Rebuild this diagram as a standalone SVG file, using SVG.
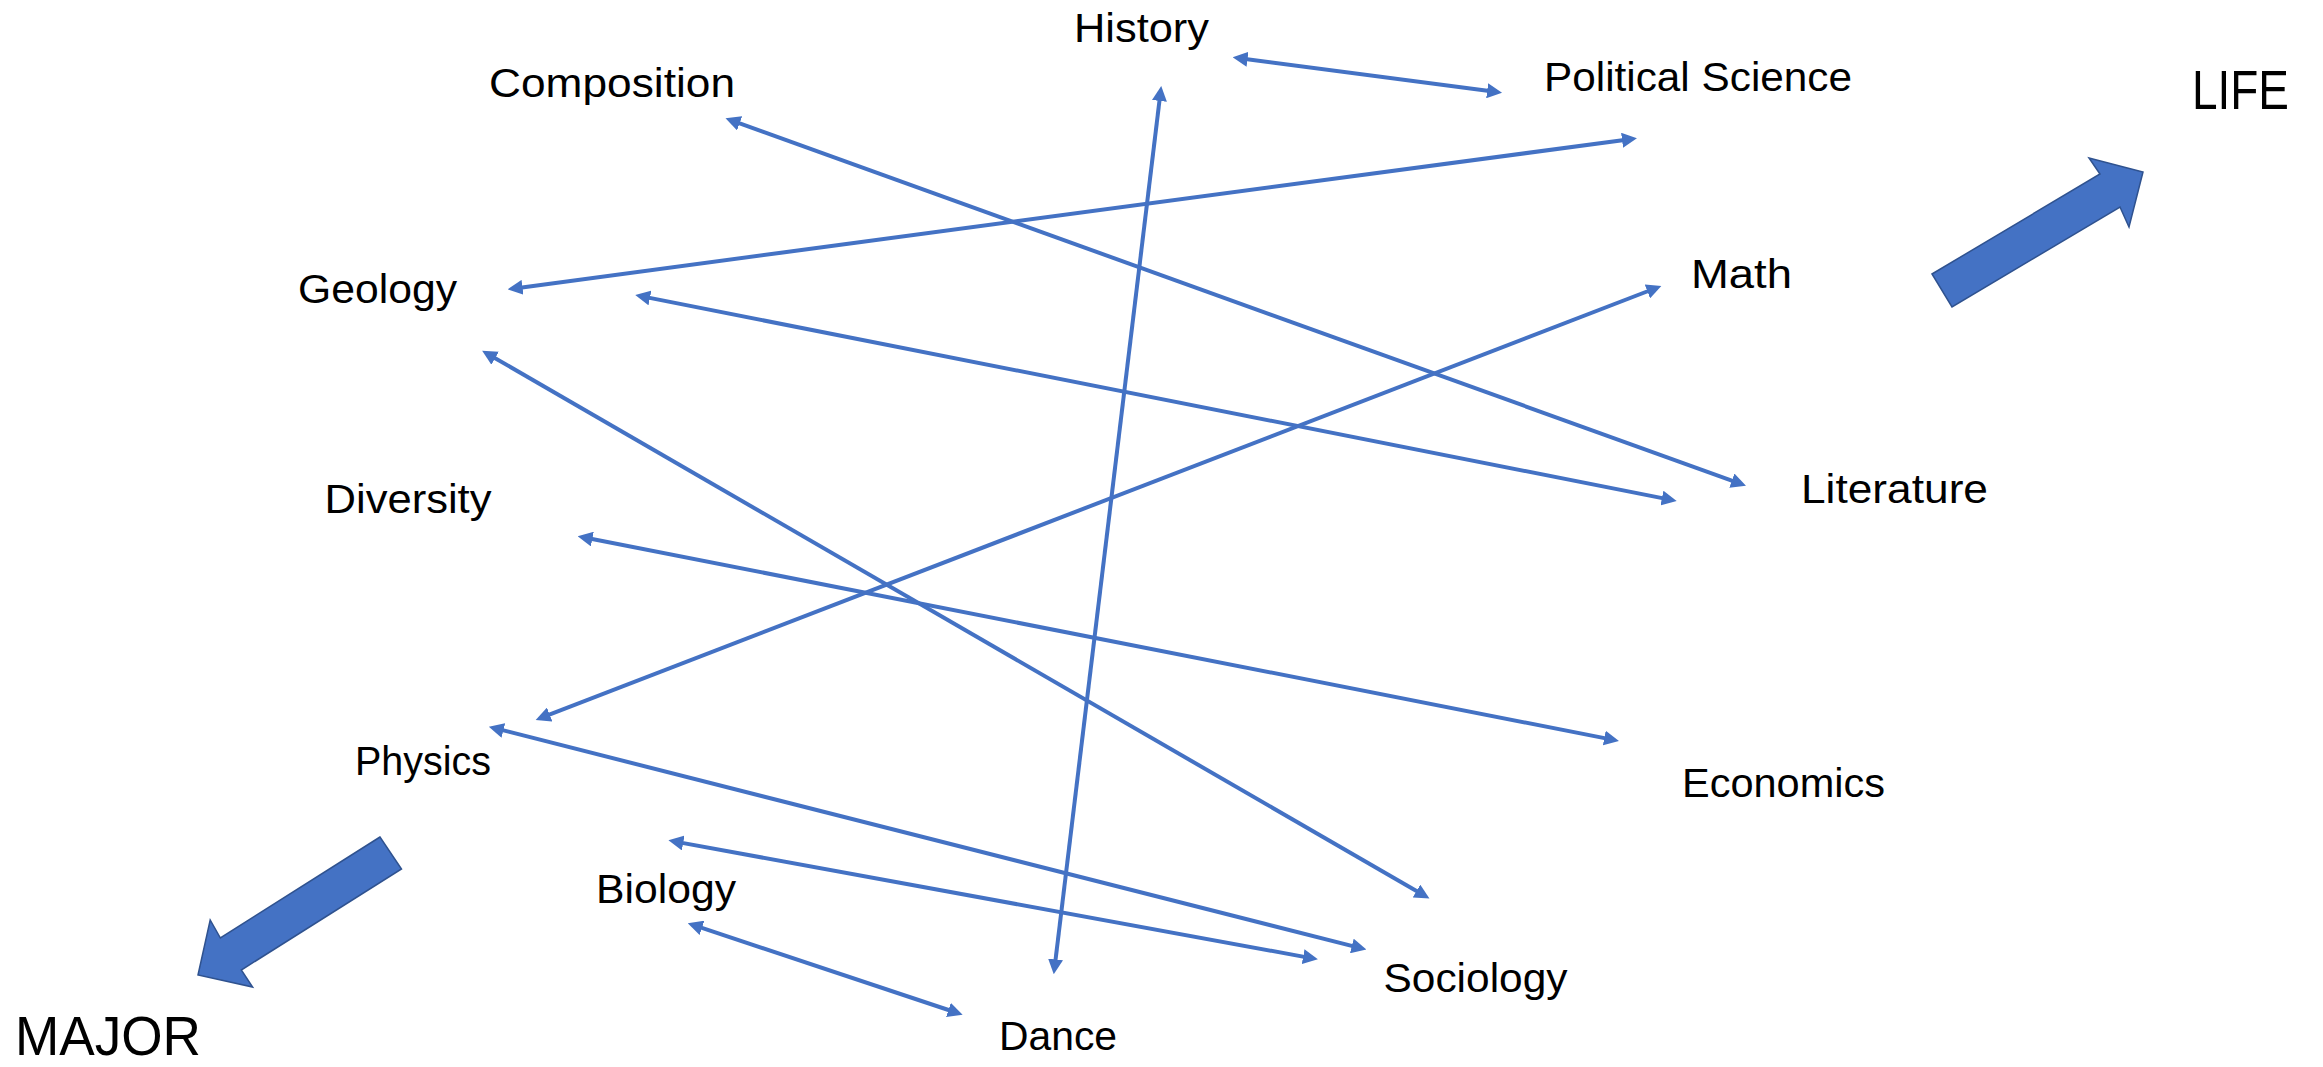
<svg xmlns="http://www.w3.org/2000/svg" width="2323" height="1067" viewBox="0 0 2323 1067">
  <style>
    .lbl { font-family: "Liberation Sans", Arial, sans-serif; font-size: 41px; fill: #000000; }
    .big { font-family: "Liberation Sans", Arial, sans-serif; font-size: 56px; fill: #000000; }
    .link { stroke: #4472C4; stroke-width: 4; fill: none; marker-start: url(#tip); marker-end: url(#tip); }
    .block { fill: #4472C4; stroke: #2F528F; stroke-width: 1.5; stroke-linejoin: miter; }
  </style>
  <defs>
    <marker id="tip" viewBox="0 0 15 15" markerUnits="userSpaceOnUse" markerWidth="15" markerHeight="15" refX="8" refY="7.5" orient="auto-start-reverse">
      <path d="M0,0 L15,7.5 L0,15 Z" fill="#4472C4"/>
    </marker>
  </defs>
  <rect width="2323" height="1067" fill="#ffffff"/>

  <!-- connectors between subjects -->
  <g id="connectors">
    <line class="link" x1="1239.6" y1="58.2" x2="1495.1" y2="91.8"/>
    <line class="link" x1="1160.4" y1="93.0" x2="1054.6" y2="967.4"/>
    <line class="link" x1="732.1" y1="120.7" x2="1739.4" y2="483.3"/>
    <line class="link" x1="514.6" y1="288.4" x2="1630.0" y2="139.2"/>
    <line class="link" x1="642.1" y1="296.4" x2="1669.8" y2="499.6"/>
    <line class="link" x1="488.2" y1="354.2" x2="1423.4" y2="895.1"/>
    <line class="link" x1="1654.8" y1="288.5" x2="542.2" y2="717.4"/>
    <line class="link" x1="584.5" y1="537.5" x2="1612.1" y2="739.6"/>
    <line class="link" x1="495.6" y1="728.4" x2="1359.6" y2="947.9"/>
    <line class="link" x1="675.3" y1="841.6" x2="1311.0" y2="958.1"/>
    <line class="link" x1="694.4" y1="925.4" x2="956.0" y2="1012.5"/>
  </g>

  <!-- subject labels -->
  <g id="history"><text class="lbl" x="1074" y="42.3" textLength="135" lengthAdjust="spacingAndGlyphs">History</text></g>
  <g id="composition"><text class="lbl" x="489" y="96.7" textLength="246" lengthAdjust="spacingAndGlyphs">Composition</text></g>
  <g id="political-science"><text class="lbl" x="1544" y="90.7" textLength="308" lengthAdjust="spacingAndGlyphs">Political Science</text></g>
  <g id="geology"><text class="lbl" x="298" y="302.7" textLength="159" lengthAdjust="spacingAndGlyphs">Geology</text></g>
  <g id="math"><text class="lbl" x="1691" y="288.3" textLength="101" lengthAdjust="spacingAndGlyphs">Math</text></g>
  <g id="literature"><text class="lbl" x="1801" y="503.3" textLength="187" lengthAdjust="spacingAndGlyphs">Literature</text></g>
  <g id="diversity"><text class="lbl" x="324.5" y="512.7" textLength="167" lengthAdjust="spacingAndGlyphs">Diversity</text></g>
  <g id="physics"><text class="lbl" x="355" y="775.2" textLength="136" lengthAdjust="spacingAndGlyphs">Physics</text></g>
  <g id="economics"><text class="lbl" x="1682" y="797.3" textLength="203" lengthAdjust="spacingAndGlyphs">Economics</text></g>
  <g id="biology"><text class="lbl" x="596" y="902.8" textLength="140" lengthAdjust="spacingAndGlyphs">Biology</text></g>
  <g id="sociology"><text class="lbl" x="1383.5" y="992.2" textLength="184" lengthAdjust="spacingAndGlyphs">Sociology</text></g>
  <g id="dance"><text class="lbl" x="999" y="1049.6" textLength="118" lengthAdjust="spacingAndGlyphs">Dance</text></g>

  <!-- direction indicators -->
  <g id="life">
    <polygon class="block" points="1932,274 2100,174 2089,158 2143,172 2129,227 2120,207 1952,307"/>
    <text class="big" x="2192" y="109.3" textLength="97" lengthAdjust="spacingAndGlyphs">LIFE</text>
  </g>
  <g id="major">
    <polygon class="block" points="380,837 220.4,938 210.2,920 198,975 252.6,987 241.3,970 401.5,869"/>
    <text class="big" x="15" y="1055" textLength="186" lengthAdjust="spacingAndGlyphs" font-size="51">MAJOR</text>
  </g>
</svg>
